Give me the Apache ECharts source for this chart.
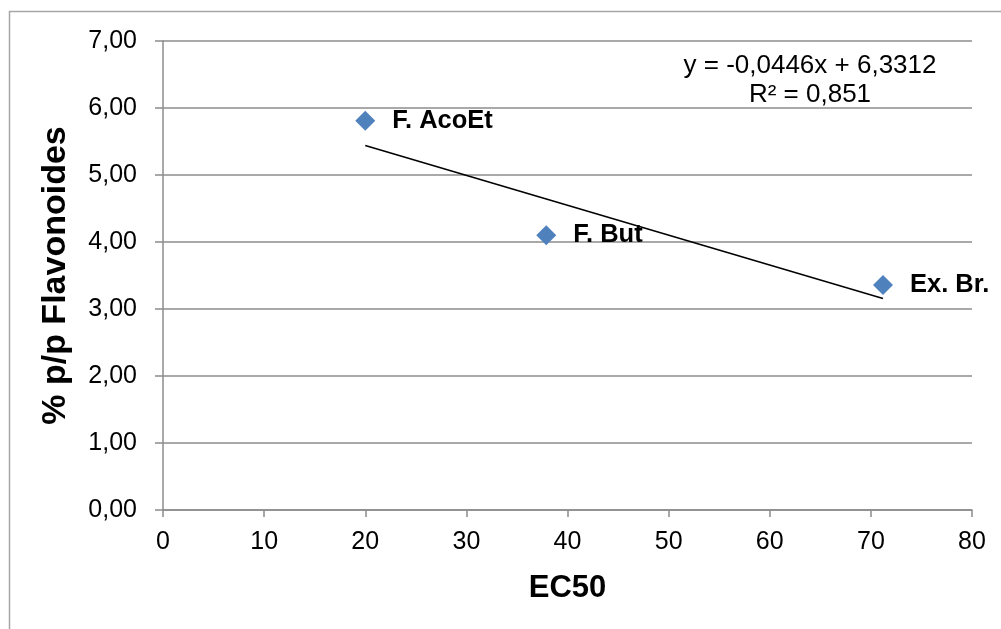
<!DOCTYPE html>
<html>
<head>
<meta charset="utf-8">
<style>
  html, body { margin: 0; padding: 0; background: #ffffff; }
  #chart { width: 1001px; height: 629px; }
</style>
<script src="https://cdn.jsdelivr.net/npm/echarts@6/dist/echarts.min.js"></script>
</head>
<body>
<div id="chart"></div>
<script>
// Samples: EC50 against flavonoid content (% p/p)
const sampleNames = ['F. AcoEt', 'F. But', 'Ex. Br.'];
const ec50Values = [20.0, 37.9, 71.2];
const flavonoidValues = [5.81, 4.10, 3.36];

// Linear trend line coefficients (as printed on the chart)
const trendSlope = -0.0446;
const trendIntercept = 6.3312;
const trendR2 = '0,851';

const FONT = 'Liberation Sans, Arial, sans-serif';
const GRID_COLOR = '#8c8c8c';

const points = ec50Values.map((x, i) => ({ name: sampleNames[i], value: [x, flavonoidValues[i]] }));
const xMin = Math.min(...ec50Values);
const xMax = Math.max(...ec50Values);
const trendPoints = [
  [xMin, trendSlope * xMin + trendIntercept],
  [xMax, trendSlope * xMax + trendIntercept]
];

const fmtComma = (v, d) => v.toFixed(d).replace('.', ',');
const eqText = 'y = ' + fmtComma(trendSlope, 4) + 'x + ' + fmtComma(trendIntercept, 4);

const chart = echarts.init(document.getElementById('chart'), null, { renderer: 'canvas' });
chart.setOption({
  animation: false,
  backgroundColor: '#ffffff',
  grid: { left: 163, right: 29, top: 41, bottom: 119, containLabel: false },
  xAxis: {
    type: 'value',
    min: 0, max: 80, interval: 10,
    name: 'EC50',
    nameLocation: 'middle',
    nameGap: 63,
    nameTextStyle: { fontFamily: FONT, fontSize: 31, fontWeight: 'bold', color: '#000' },
    axisLine: { show: true, lineStyle: { color: GRID_COLOR, width: 1.5 } },
    axisTick: { show: true, length: 7, lineStyle: { color: GRID_COLOR, width: 1.5 } },
    axisLabel: { fontFamily: FONT, fontSize: 25, color: '#000', margin: 20 },
    splitLine: { show: false }
  },
  yAxis: {
    type: 'value',
    min: 0, max: 7, interval: 1,
    name: '% p/p Flavonoides',
    nameLocation: 'middle',
    nameGap: 90,
    nameTextStyle: { fontFamily: FONT, fontSize: 34, fontWeight: 'bold', color: '#000' },
    axisLine: { show: true, lineStyle: { color: GRID_COLOR, width: 1.5 } },
    axisTick: { show: true, length: 8, lineStyle: { color: GRID_COLOR, width: 1.5 } },
    axisLabel: { fontFamily: FONT, fontSize: 25, color: '#000', margin: 26,
      formatter: v => fmtComma(v, 2) },
    splitLine: { show: true, lineStyle: { color: GRID_COLOR, width: 1.5 } }
  },
  series: [
    {
      type: 'line',
      data: trendPoints,
      symbol: 'none',
      lineStyle: { color: '#000', width: 1.5 },
      silent: true,
      z: 2
    },
    {
      type: 'scatter',
      data: points,
      symbol: 'diamond',
      symbolSize: 20,
      itemStyle: { color: '#4f81bd', opacity: 1 },
      label: {
        show: true,
        position: 'right',
        distance: 17,
        formatter: p => p.name,
        fontFamily: FONT,
        fontSize: 25.5,
        fontWeight: 'bold',
        color: '#000',
        textBorderWidth: 0
      },
      z: 3
    }
  ],
  graphic: [
    {
      type: 'rect',
      shape: { x: 9.5, y: 11.5, width: 1100, height: 700 },
      style: { fill: 'none', stroke: '#a6a6a6', lineWidth: 1.5 },
      silent: true,
      z: 0
    },
    {
      type: 'text',
      x: 810, y: 51,
      style: {
        text: eqText + '\nR² = ' + trendR2,
        fontFamily: FONT, fontSize: 26, fill: '#000',
        align: 'center', verticalAlign: 'top', lineHeight: 29
      },
      z: 5
    }
  ]
});
</script>
</body>
</html>
